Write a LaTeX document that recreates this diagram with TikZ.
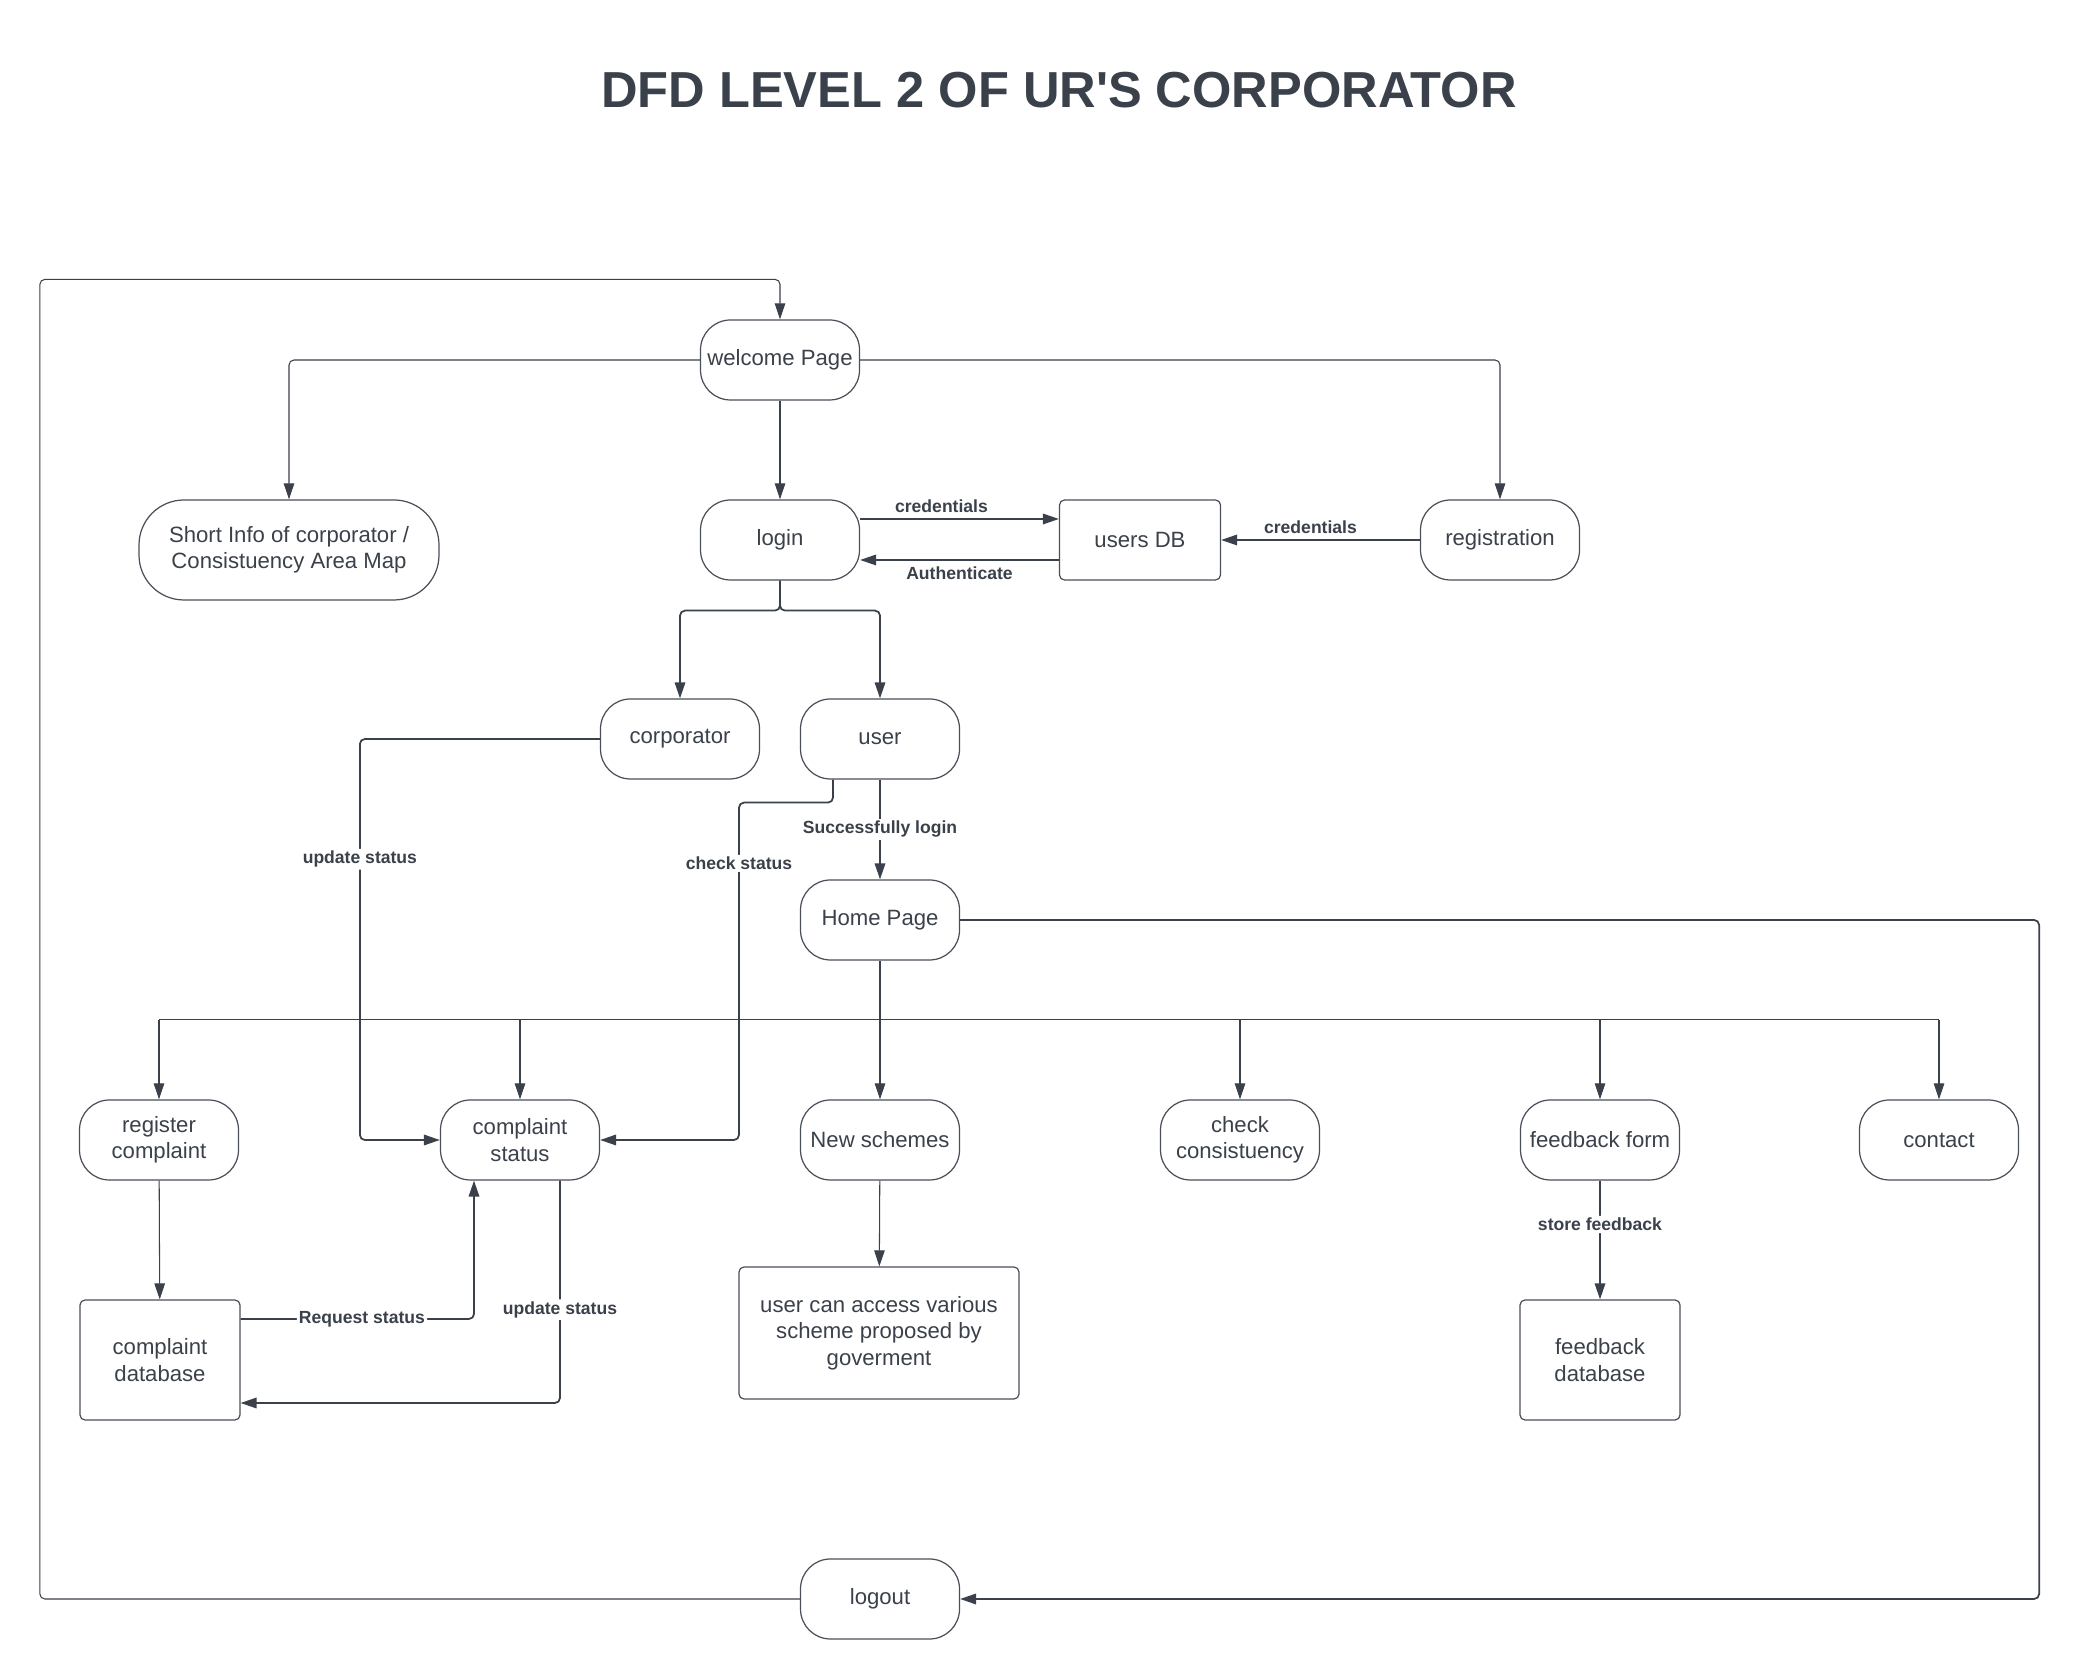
\documentclass[tikz,border=0pt]{standalone}
\usepackage{fontspec}
\setmainfont{Liberation Sans}
\usepackage{xcolor}
\usetikzlibrary{arrows.meta,calc}
\definecolor{inkc}{HTML}{3A414A}
\definecolor{edgec}{HTML}{4A5059}

\begin{document}
\begin{tikzpicture}[x=1cm, y=1cm, font=\fontsize{6.3}{7.5}\selectfont, text=inkc,
  proc/.style={draw=edgec, line width=0.35pt, rounded corners=0.3cm, minimum width=1.59cm, minimum height=0.8cm, inner sep=0pt, align=center},
  store/.style={draw=edgec, line width=0.35pt, rounded corners=0.05cm, inner sep=0pt, align=center},
  flow/.style={draw=inkc, line width=0.5pt, rounded corners=0.05cm, -{Triangle[length=1.6mm, width=1.05mm]}},
  thinflow/.style={flow, line width=0.3pt},
  lbl/.style={font=\fontsize{5}{6}\selectfont\bfseries, fill=white, inner sep=0.6pt}]
  \useasboundingbox (0,0) rectangle (20.81,16.8);

  % title
  \node (title) at (10.59,15.9) {\fontsize{14.4}{17}\selectfont\bfseries DFD LEVEL 2 OF UR\textquotesingle S CORPORATOR};

  % top row
  \node[proc] (welcome) at (7.8,13.2) {welcome Page};
  \node[proc] (login) at (7.8,11.4) {login};
  \node[store, minimum width=1.61cm, minimum height=0.8cm] (usersdb) at (11.4,11.4) {users DB};
  \node[proc] (registration) at (15.0,11.4) {registration};
  \node[proc, rounded corners=0.45cm, minimum width=3cm, minimum height=1cm] (shortinfo) at (2.89,11.3) {Short Info of corporator /\\Consistuency Area Map};

  % roles
  \node[proc] (corporator) at (6.8,9.41) {corporator};
  \node[proc] (user) at (8.8,9.41) {user};
  \node[proc] (homepage) at (8.8,7.6) {Home Page};

  % home page options
  \node[proc] (regcomp) at (1.59,5.4) {register\\complaint};
  \node[proc] (cstatus) at (5.2,5.4) {complaint\\status};
  \node[proc] (newschemes) at (8.8,5.4) {New schemes};
  \node[proc] (checkcons) at (12.4,5.4) {check\\consistuency};
  \node[proc] (fbform) at (16.0,5.4) {feedback form};
  \node[proc] (contact) at (19.39,5.4) {contact};

  % stores
  \node[store, minimum width=1.6cm, minimum height=1.2cm] (compdb) at (1.6,3.2) {complaint\\database};
  \node[store, minimum width=2.8cm, minimum height=1.32cm] (schemes) at (8.79,3.47) {user can access various\\scheme proposed by\\goverment};
  \node[store, minimum width=1.6cm, minimum height=1.2cm] (fbdb) at (16.0,3.2) {feedback\\database};
  \node[proc] (logout) at (8.8,0.81) {logout};

  % welcome page flows
  \draw[thinflow] (welcome.west) -| (shortinfo.north);
  \draw[thinflow] (welcome.east) -| (registration.north);
  \draw[thinflow] (welcome) -- (login);

  % login / users DB
  \draw[flow] ([yshift=2.1mm]login.east) -- node[lbl, above=1pt, fill=none, xshift=-1.8mm] {credentials} ([yshift=2.1mm]usersdb.west);
  \draw[flow] ([yshift=-2mm]usersdb.west) -- node[lbl, below=1pt, fill=none] {Authenticate} ([yshift=-2mm]login.east);
  \draw[flow] (registration.west) -- node[lbl, above=1pt, fill=none, xshift=-1mm] {credentials} (usersdb.east);
  \draw[flow] (login.south) -- ++(0,-0.3) -| (corporator.north);
  \draw[flow] (login.south) -- ++(0,-0.3) -| (user.north);

  % complaint status
  \draw[flow] (corporator.west) -- ++(-2.4,0) |- node[lbl, pos=0.15] {update status} (cstatus.west);
  \draw[flow] ([xshift=-4.7mm]user.south) |- ++(-0.94,-0.23) |- node[lbl, pos=0.09] {check status} (cstatus.east);
  \draw[flow] (user) -- node[lbl] {Successfully login} (homepage);

  % home page bus
  \coordinate (bus) at ($(homepage.south)+(0,-0.59)$);
  \draw[thinflow] (homepage) -- (newschemes);
  \draw[draw=inkc, line width=0.5pt] (regcomp.north |- bus) -- (contact.north |- bus);
  \foreach \n in {regcomp,cstatus,checkcons,fbform,contact}
    \draw[thinflow] (\n.north |- bus) -- (\n.north);
  \draw[flow] (homepage.east) -- ++(10.79,0) |- (logout.east);
  \draw[thinflow] (logout.west) -- ++(-7.6,0) |- ([yshift=4mm]welcome.north) -- (welcome.north);

  % databases
  \draw[thinflow] (regcomp) -- (compdb);
  \draw[flow] ([yshift=4.1mm]compdb.east) -| node[lbl, pos=0.26] {Request status} ([xshift=-4.6mm]cstatus.south);
  \draw[flow] ([xshift=4mm]cstatus.south) |- node[lbl, pos=0.29] {update status} ([yshift=-4.3mm]compdb.east);
  \draw[thinflow] (newschemes) -- (schemes);
  \draw[flow] (fbform) -- node[lbl, pos=0.37] {store feedback} (fbdb);
\end{tikzpicture}
\end{document}
